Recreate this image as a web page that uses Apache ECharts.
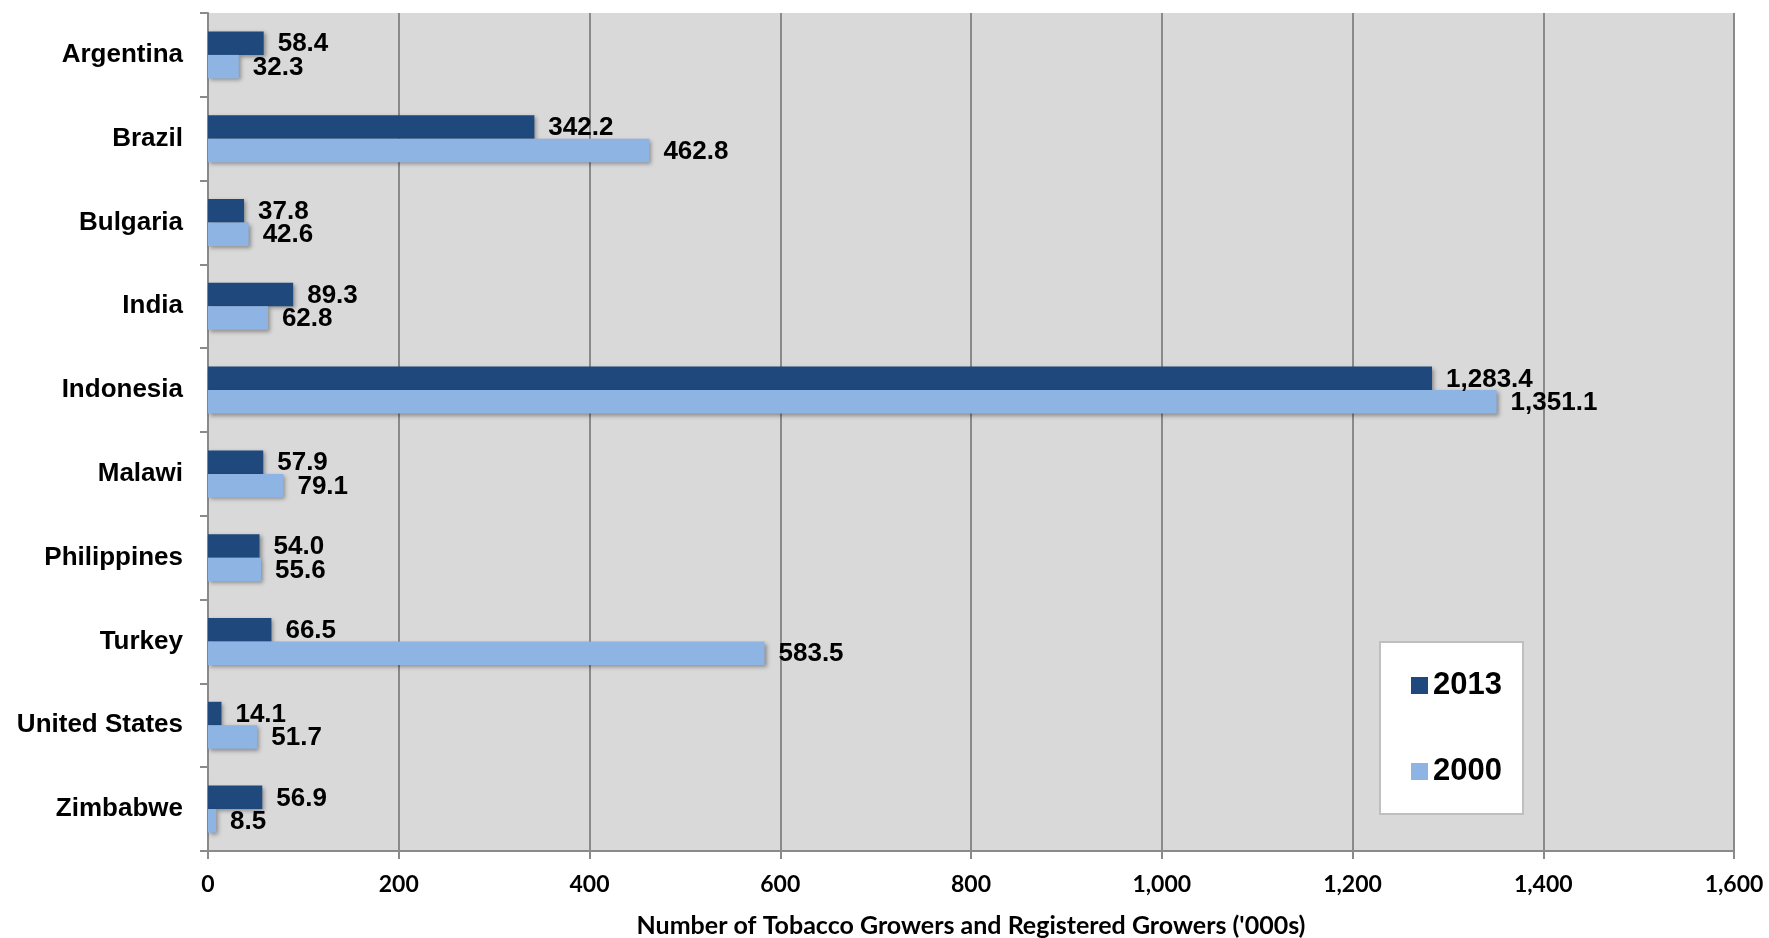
<!DOCTYPE html>
<html>
<head>
<meta charset="utf-8">
<script src="https://cdn.jsdelivr.net/npm/echarts@6/dist/echarts.min.js"></script>
<style>
html,body{margin:0;padding:0;background:#fff;}
#chart{width:1769px;height:938px;}
</style>
</head>
<body>
<div id="chart"></div>
<script>
const categories = ['Argentina','Brazil','Bulgaria','India','Indonesia','Malawi','Philippines','Turkey','United States','Zimbabwe'];
const values2013 = [58.4, 342.2, 37.8, 89.3, 1283.4, 57.9, 54.0, 66.5, 14.1, 56.9];
const values2000 = [32.3, 462.8, 42.6, 62.8, 1351.1, 79.1, 55.6, 583.5, 51.7, 8.5];
const seriesNames = ['2013', '2000'];
const xAxisTitle = "Number of Tobacco Growers and Registered Growers ('000s)";

const fmt1 = v => Number(v).toLocaleString('en-US', {minimumFractionDigits: 1, maximumFractionDigits: 1});
const fmt0 = v => Number(v).toLocaleString('en-US');

const labelStyle = {
  show: true, position: 'right', distance: 14, offset: [0, 1],
  fontFamily: '"Liberation Sans", Arial, sans-serif', fontWeight: 'bold', fontSize: 26, color: '#000',
  formatter: p => fmt1(p.value)
};
const shadow = {shadowColor: 'rgba(0,0,0,0.35)', shadowBlur: 4, shadowOffsetX: 2, shadowOffsetY: 2};

const chart = echarts.init(document.getElementById('chart'), null, {renderer: 'canvas'});
chart.setOption({
  animation: false,
  backgroundColor: '#fff',
  grid: {left: 208, right: 35, top: 13, bottom: 87, containLabel: false, outerBoundsMode: 'none',
         show: true, backgroundColor: '#d9d9d9', borderWidth: 0},
  legend: {
    orient: 'vertical', left: 1380, top: 642,
    padding: [28, 21, 27, 31], itemGap: 55, itemWidth: 17, itemHeight: 17,
    icon: 'rect', backgroundColor: '#fff', borderColor: '#bfbfbf', borderWidth: 2,
    textStyle: {fontFamily: '"Liberation Sans", Arial, sans-serif', fontWeight: 'bold', fontSize: 31, color: '#000'},
    data: seriesNames
  },
  xAxis: {
    type: 'value', min: 0, max: 1600, interval: 200,
    name: xAxisTitle, nameLocation: 'middle', nameGap: 62,
    nameTextStyle: {fontFamily: 'Lato, "Open Sans", sans-serif', fontWeight: 'bold', fontSize: 25, color: '#000'},
    axisLine: {show: true, lineStyle: {color: '#8a8a8a', width: 2}},
    axisTick: {show: true, length: 8, lineStyle: {color: '#8a8a8a', width: 2}},
    axisLabel: {margin: 22, fontFamily: 'Lato, "Open Sans", sans-serif', fontWeight: 'bold', fontSize: 23, color: '#000', formatter: v => fmt0(v)},
    splitLine: {show: true, lineStyle: {color: '#8a8a8a', width: 2}}
  },
  yAxis: {
    type: 'category', data: categories, inverse: true,
    axisLine: {show: true, lineStyle: {color: '#8a8a8a', width: 2}},
    axisTick: {show: true, length: 8, lineStyle: {color: '#8a8a8a', width: 2}},
    axisLabel: {margin: 25, fontFamily: '"Liberation Sans", Arial, sans-serif', fontWeight: 'bold', fontSize: 26, color: '#000'},
    splitLine: {show: false}
  },
  series: [
    {name: seriesNames[0], type: 'bar', data: values2013, barWidth: 23.5, barGap: '0%',
     itemStyle: Object.assign({color: '#1F497D'}, shadow), label: labelStyle},
    {name: seriesNames[1], type: 'bar', data: values2000, barWidth: 23.5, barGap: '0%',
     itemStyle: Object.assign({color: '#8EB4E3'}, shadow), label: labelStyle}
  ]
});
</script>
</body>
</html>
